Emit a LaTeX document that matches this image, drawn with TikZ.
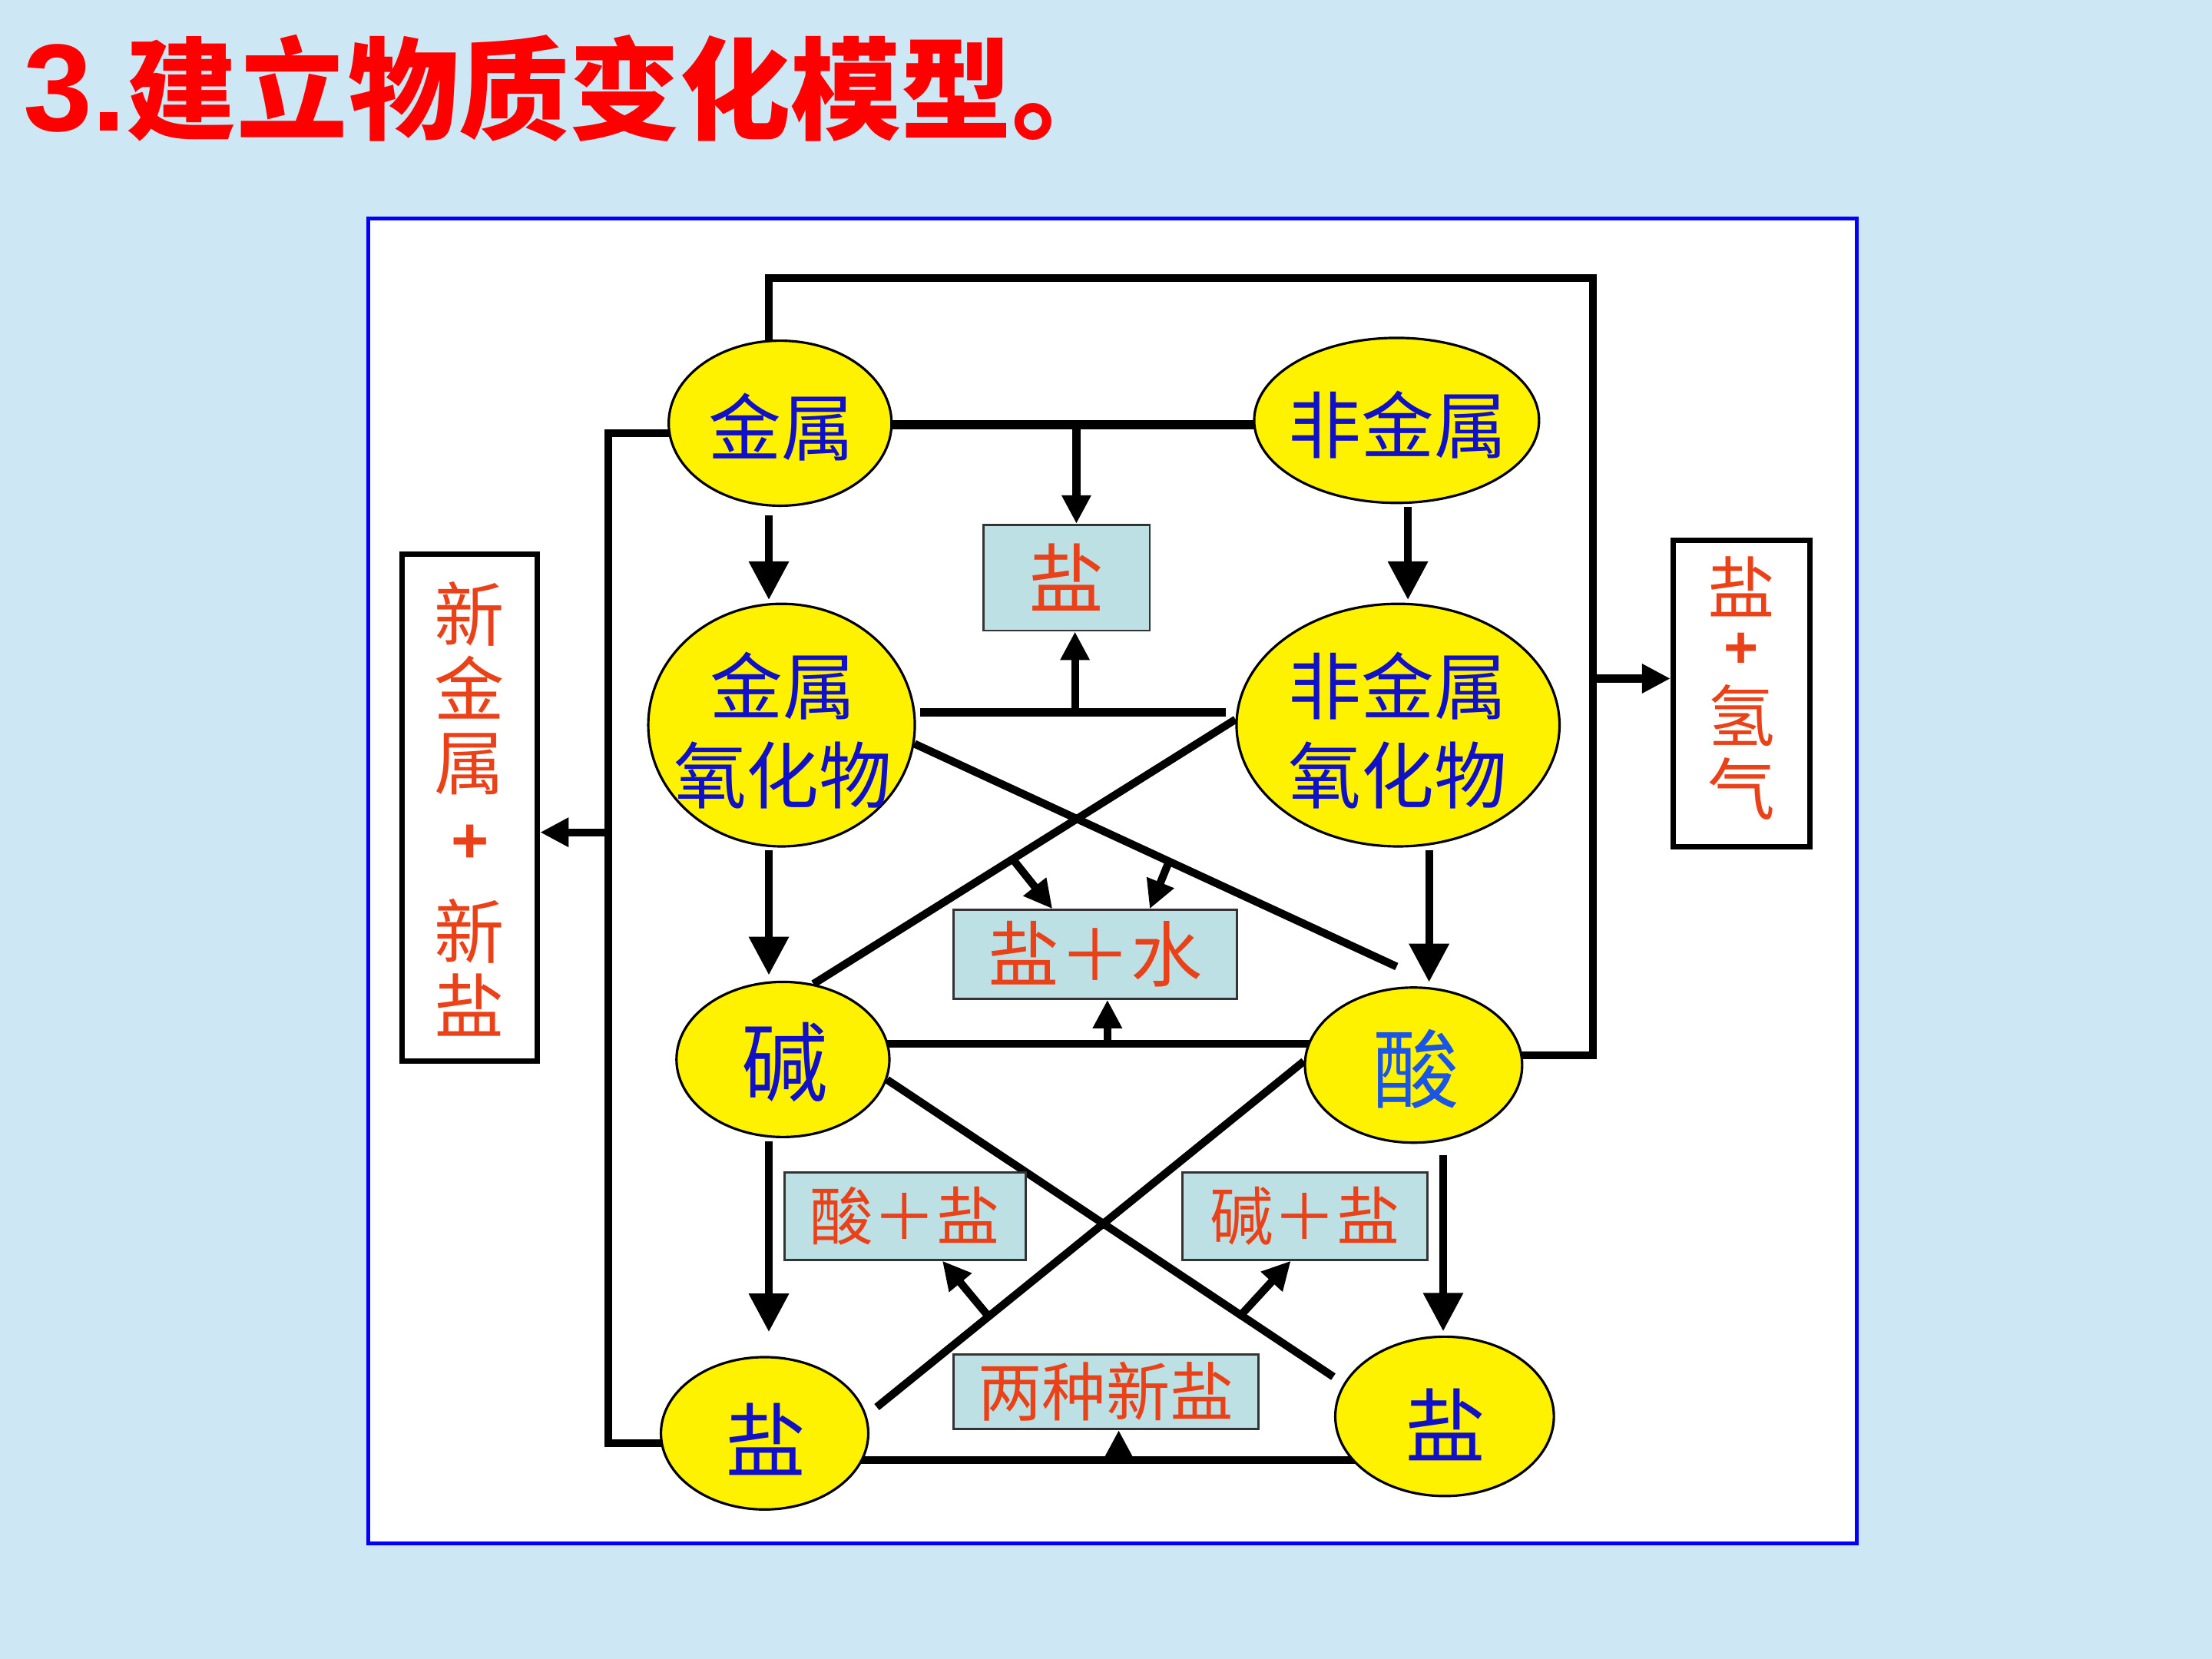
\documentclass[tikz,border=0pt]{standalone}
\usepackage{fontspec}
\newfontfamily\cjk{Noto Sans CJK SC}
\newfontfamily\arial{Liberation Sans}
\usetikzlibrary{arrows.meta,shapes.geometric,calc}
\pgfdeclarelayer{bg}
\pgfdeclarelayer{edges}
\pgfsetlayers{bg,edges,main}
\definecolor{bgblue}{RGB}{205,232,244}
\definecolor{nodeblue}{RGB}{16,16,200}
\definecolor{acidblue}{RGB}{25,85,230}
\definecolor{redtxt}{RGB}{235,65,25}
\definecolor{boxfill}{RGB}{188,224,228}
\definecolor{panelblue}{RGB}{0,0,255}
\begin{document}
\begin{tikzpicture}[x=0.018367cm, y=-0.018367cm,
  ell/.style={ellipse, draw=black, line width=0.9pt, fill=yellow, inner sep=0pt},
  etext/.style={text=nodeblue, font=\cjk\fontsize{27}{33}\selectfont, align=center, inner sep=0pt},
  rbox/.style={draw=black!80, line width=0.8pt, fill=boxfill, inner sep=0pt, text=redtxt},
  sbox/.style={draw=black, line width=2pt, fill=white, inner sep=0pt},
  stext/.style={text=redtxt, align=center, inner sep=0pt, font=\cjk\fontsize{26}{27.5}\selectfont},
  plustext/.style={text=redtxt, inner sep=0pt, font=\arial\bfseries\fontsize{24}{24}\selectfont},
  conn/.style={line width=2.9pt, black},
  bigarr/.style={conn, -{Triangle[length=0.5cm,width=0.5cm]}},
  smallarr/.style={conn, -{Triangle[length=0.37cm,width=0.36cm]}},
]
\useasboundingbox (0,0) rectangle (1568,1176);
\begin{pgfonlayer}{bg}
\fill[bgblue] (0,0) rectangle (1568,1176);
\draw[panelblue, line width=1.5pt, fill=white] (261,155) rectangle (1316,1094);
\end{pgfonlayer}

% title
\node[anchor=base west, inner sep=0pt, text=red] (title) at (16,93)
  {\arial\bfseries\fontsize{46}{46}\selectfont 3.\cjk\fontsize{41}{41}\selectfont 建立物质变化模型。};

% ellipses
\node[ell, minimum width=2.902cm, minimum height=2.149cm] (M) at (553,300) {};
\node[ell, minimum width=3.710cm, minimum height=2.149cm] (N) at (990,298) {};
\node[ell, minimum width=3.471cm, minimum height=3.159cm] (MO) at (554,514) {};
\node[ell, minimum width=4.206cm, minimum height=3.159cm] (NO) at (991,514) {};
\node[ell, minimum width=2.773cm, minimum height=2.020cm] (B) at (555,751) {};
\node[ell, minimum width=2.829cm, minimum height=2.020cm] (A) at (1002,755) {};
\node[ell, minimum width=2.700cm, minimum height=1.984cm] (S1) at (542,1016) {};
\node[ell, minimum width=2.847cm, minimum height=2.075cm] (S2) at (1024,1004) {};

\node[etext] (Mt) at (554,303) {金属};
\node[etext] (Nt) at (991,301) {非金属};
\node[etext] (MOt) at (555,518) {金属\\氧化物};
\node[etext] (NOt) at (991,518) {非金属\\氧化物};
\node[etext, font=\cjk\fontsize{32}{32}\selectfont] (Bt) at (556,753) {碱};
\node[etext, text=acidblue, font=\cjk\fontsize{32}{32}\selectfont] (At) at (1004,758) {酸};
\node[etext, font=\cjk\fontsize{30}{30}\selectfont] (S1t) at (543,1020) {盐};
\node[etext, font=\cjk\fontsize{30}{30}\selectfont] (S2t) at (1025,1010) {盐};

% product boxes
\node[rbox, minimum width=2.167cm, minimum height=1.378cm, font=\cjk\fontsize{28}{28}\selectfont] (b1) at (756,409.5) {盐};
\node[rbox, minimum width=3.692cm, minimum height=1.157cm, font=\cjk\fontsize{26.5}{26.5}\selectfont] (b2) at (776.5,676.5) {盐＋水};
\node[rbox, minimum width=3.141cm, minimum height=1.139cm, font=\cjk\fontsize{23.5}{23.5}\selectfont] (b3) at (641.5,862) {酸＋盐};
\node[rbox, minimum width=3.196cm, minimum height=1.139cm, font=\cjk\fontsize{23.5}{23.5}\selectfont] (b4) at (925,862) {碱＋盐};
\node[rbox, minimum width=3.967cm, minimum height=0.973cm, font=\cjk\fontsize{23.7}{23.7}\selectfont] (b5) at (784,986.5) {两种新盐};

% side boxes
\node[sbox, minimum width=1.763cm, minimum height=6.594cm] (L) at (333,572.5) {};
\node[stext] (Lt1) at (333,488) {新\\金\\属};
\node[plustext] (Lp) at (333,598) {+};
\node[stext] (Lt2) at (333,686) {新\\盐};
\node[sbox, minimum width=1.782cm, minimum height=3.986cm] (R) at (1234.5,491.5) {};
\node[stext, font=\cjk\fontsize{25}{27}\selectfont] (Rt1) at (1234.5,416) {盐};
\node[plustext, font=\arial\bfseries\fontsize{22}{22}\selectfont] (Rp) at (1234.5,461) {+};
\node[stext, font=\cjk\fontsize{25}{27}\selectfont] (Rt2) at (1234.5,533) {氢\\气};

\begin{pgfonlayer}{edges}
% top loop metal -> ... -> acid, branch to salt + hydrogen
\coordinate (tl) at (545,197);
\coordinate (tr) at (1129,197);
\coordinate (trb) at (1129,748);
\draw[conn] (tl |- M.center) -- (tl) -- (tr) -- (trb) -- (trb -| A.center);
\coordinate (rj) at (1129,481);
\draw[smallarr] (rj) -- (rj -| R.west);
% left loop metal -> salt, branch to new metal + new salt
\coordinate (lt) at (431,307);
\coordinate (lb) at (431,1023);
\draw[conn] (lt -| M.center) -- (lt) -- (lb) -- (lb -| S1.center);
\coordinate (lj) at (431,590);
\draw[smallarr] (lj) -- (lj -| L.east);

% vertical arrows
\draw[bigarr] ($(M.south)+(-8,6)$) -- ($(MO.north)+(-9,-2)$);
\draw[bigarr] ($(N.south)+(8,2)$) -- ($(NO.north)+(7,-2)$);
\draw[bigarr] ($(MO.south)+(-9,2)$) -- ($(B.north)+(-10,-4)$);
\draw[bigarr] ($(NO.south)+(22,2)$) -- ($(A.north)+(11,-3)$);
\draw[bigarr] ($(B.south)+(-10,2)$) -- ($(S1.north)+(3,-17)$);
\draw[bigarr] ($(A.south)+(21,8)$) -- ($(S2.north)+(-1,-3)$);

% horizontal pairs with arrows into boxes
\coordinate (h1) at (763,301);
\draw[conn, line width=3.6pt] (h1 -| M.center) -- (h1 -| N.center);
\draw[smallarr] (h1) -- (h1 |- b1.north);
\coordinate (h2) at (762,505);
\draw[conn] ($(h2 -| MO.east)+(3,0)$) -- ($(h2 -| NO.west)+(-7,0)$);
\draw[smallarr] (h2) -- (h2 |- b1.south);
\coordinate (h3) at (785,740);
\draw[conn] (h3 -| B.center) -- (h3 -| A.center);
\draw[smallarr] (h3) -- (h3 |- b2.south);
\coordinate (h4) at (793,1035);
\draw[conn] (h4 -| S1.center) -- (h4 -| S2.center);
\draw[smallarr] (h4) -- (h4 |- b5.south);

% crossing lines
\draw[conn] (MO.-8) -- coordinate[pos=0.528] (c1) ($(A.north)+(-12,-14)$);
\draw[conn] (NO.178) -- coordinate[pos=0.528] (c2) (B.68);
\draw[conn, shorten >=0.16cm] (B.-11) -- coordinate[pos=0.775] (c4) (S2.162);
\draw[conn, shorten >=0.17cm] (A.178) -- coordinate[pos=0.721] (c3) (S1.10);
\draw[smallarr] (c1) -- ($(b2.north)+(38.5,0)$);
\draw[smallarr] (c2) -- ($(b2.north)+(-30.5,0)$);
\draw[smallarr] (c3) -- ($(b3.south)+(26.5,0)$);
\draw[smallarr] (c4) -- ($(b4.south)+(-10,0)$);
\end{pgfonlayer}
\end{tikzpicture}
\end{document}
